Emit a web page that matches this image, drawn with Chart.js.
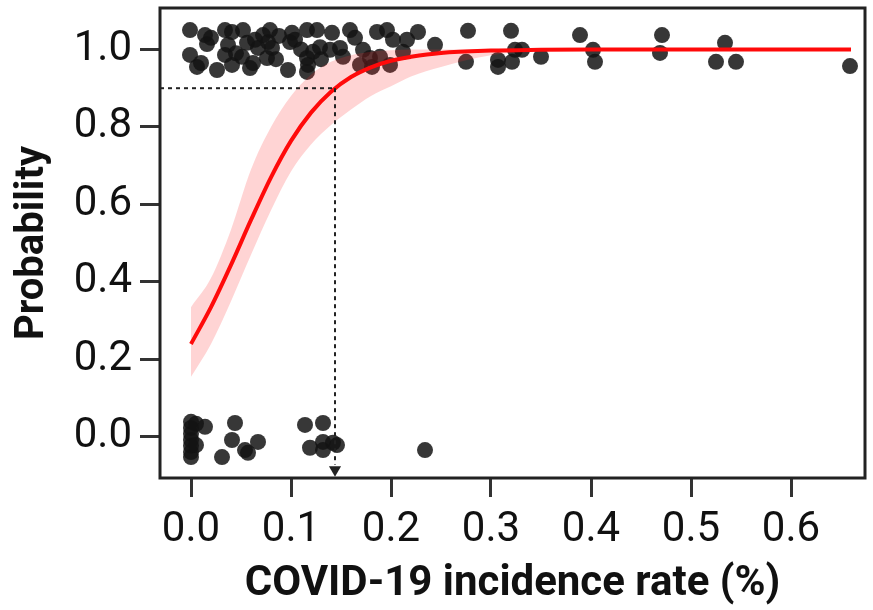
<!DOCTYPE html>
<html>
<head>
<meta charset="utf-8">
<script src="https://cdn.jsdelivr.net/npm/chart.js@4"></script>
<style>
  body { margin: 0; background: #fff; }
  #wrap { width: 873px; height: 610px; position: relative; }
</style>
</head>
<body>
<div id="wrap"><canvas id="probChart"></canvas></div>
<script>
// observed outcomes (jittered), outcome = 1
const posX = [-0.001, -0.001, 0.006, 0.014, 0.016, 0.026, 0.034, 0.037, 0.034, 0.041, 0.041, 0.052, 0.056, 0.051, 0.059,
  0.064, 0.067, 0.072, 0.077, 0.079, 0.076, 0.081, 0.101, 0.099, 0.104, 0.097, 0.116, 0.116, 0.126, 0.122, 0.116,
  0.117, 0.129, 0.139, 0.141, 0.149, 0.152, 0.159, 0.164, 0.169, 0.172, 0.179, 0.181, 0.186, 0.189, 0.196, 0.199,
  0.202, 0.212, 0.216, 0.227, 0.244, 0.275, 0.277, 0.307, 0.307, 0.320, 0.321, 0.324, 0.331, 0.350, 0.389, 0.402,
  0.404, 0.471, 0.469, 0.534, 0.525, 0.545, 0.659,
  0.020, 0.045, 0.062, 0.088, 0.085, 0.010, 0.110, 0.130];
const posY = [1.050, 0.986, 0.955, 1.037, 1.014, 0.947, 1.050, 1.012, 0.986, 0.960, 1.045, 1.050, 1.017, 0.981, 0.952,
  1.025, 1.004, 1.037, 1.019, 1.050, 0.978, 1.004, 1.043, 1.019, 1.025, 0.947, 0.942, 1.050, 1.050, 0.994, 0.978,
  0.960, 1.006, 0.999, 1.043, 1.004, 0.981, 1.050, 1.030, 0.960, 0.999, 0.978, 0.955, 1.045, 0.981, 1.050, 0.960,
  1.025, 0.994, 1.025, 1.045, 1.012, 0.968, 1.048, 0.973, 0.955, 1.048, 0.968, 0.999, 0.999, 0.981, 1.037, 0.999,
  0.968, 1.037, 0.991, 1.017, 0.968, 0.968, 0.957,
  1.030, 0.990, 0.965, 1.035, 0.975, 0.965, 1.000, 0.975];

// observed outcomes (jittered), outcome = 0
const negX = [0.000, 0.000, 0.000, 0.000, 0.000, 0.000, 0.000, 0.005, 0.005, 0.014, 0.031, 0.044, 0.041, 0.054, 0.057,
  0.067, 0.114, 0.132, 0.119, 0.132, 0.132, 0.142, 0.146, 0.234];
const negY = [0.039, 0.023, 0.008, -0.008, -0.023, -0.039, -0.052, 0.034, -0.021, 0.026, -0.052, 0.036, -0.008, -0.034,
  -0.041, -0.013, 0.031, 0.036, -0.028, -0.013, -0.034, -0.015, -0.021, -0.034];

// fitted curve and confidence band
const fitX = [0, 0.02, 0.04, 0.06, 0.08, 0.10, 0.12, 0.14, 0.16, 0.18, 0.20, 0.22, 0.25, 0.30, 0.35, 0.40, 0.50, 0.66];
const fitP = [0.240, 0.335, 0.444, 0.560, 0.670, 0.764, 0.837, 0.891, 0.929, 0.954, 0.971, 0.981, 0.991, 0.997, 0.999, 1.0, 1.0, 1.0];
const bandLow = [0.155, 0.240, 0.350, 0.470, 0.585, 0.685, 0.755, 0.805, 0.845, 0.880, 0.905, 0.930, 0.955, 0.985, 0.997, 1.0, 1.0, 1.0];
const bandHigh = [0.335, 0.410, 0.535, 0.690, 0.800, 0.880, 0.935, 0.968, 0.985, 0.994, 0.998, 1.0, 1.0, 1.0, 1.0, 1.0, 1.0, 1.0];

// 90% threshold guide
const cutX = 0.144;
const cutP = 0.9;

const xTicks = [0, 0.1, 0.2, 0.3, 0.4, 0.5, 0.6];
const yTicks = [0, 0.2, 0.4, 0.6, 0.8, 1.0];
const xMin = -0.031, xMax = 0.674;
const yMin = -0.106, yMax = 1.107;

const toPts = (xs, ys) => xs.map((x, i) => ({ x: x, y: ys[i] }));

const boxPlugin = {
  id: "box",
  afterDatasetsDraw(chart) {
    const a = chart.chartArea;
    const ctx = chart.ctx;
    ctx.save();
    ctx.strokeStyle = "#222";
    ctx.lineWidth = 3;
    ctx.strokeRect(a.left, a.top, a.right - a.left, a.bottom - a.top);
    ctx.restore();
  },
};

const dashStyle = {
  type: "line",
  borderColor: "#222",
  borderWidth: 2,
  borderDash: [4, 4],
  pointRadius: 0,
  fill: false,
  order: 0,
};

new Chart(document.getElementById("probChart").getContext("2d"), {
  type: "scatter",
  data: {
    datasets: [
      {
        label: "obs1",
        data: toPts(posX, posY),
        pointRadius: 8,
        pointBackgroundColor: "rgba(20,20,20,0.85)",
        pointBorderWidth: 0,
        order: 4,
      },
      {
        label: "obs0",
        data: toPts(negX, negY),
        pointRadius: 8,
        pointBackgroundColor: "rgba(20,20,20,0.85)",
        pointBorderWidth: 0,
        order: 4,
      },
      {
        type: "line",
        label: "upper",
        data: toPts(fitX, bandHigh),
        borderWidth: 0,
        borderColor: "rgba(0,0,0,0)",
        backgroundColor: "rgba(255,40,40,0.2)",
        pointRadius: 0,
        cubicInterpolationMode: "monotone",
        fill: "+1",
        order: 3,
      },
      {
        type: "line",
        label: "lower",
        data: toPts(fitX, bandLow),
        borderWidth: 0,
        borderColor: "rgba(0,0,0,0)",
        pointRadius: 0,
        cubicInterpolationMode: "monotone",
        fill: false,
        order: 3,
      },
      {
        type: "line",
        label: "fit",
        data: toPts(fitX, fitP),
        borderColor: "#ff0a0a",
        borderWidth: 4,
        pointRadius: 0,
        cubicInterpolationMode: "monotone",
        fill: false,
        order: 1,
      },
      Object.assign({ label: "hguide", data: [{ x: xMin, y: cutP }, { x: cutX, y: cutP }] }, dashStyle),
      Object.assign({ label: "vguide", data: [{ x: cutX, y: cutP }, { x: cutX, y: -0.072 }] }, dashStyle),
      {
        label: "arrow",
        data: [{ x: cutX, y: -0.085 }],
        pointStyle: "triangle",
        rotation: 180,
        pointRadius: 7,
        pointBackgroundColor: "#222",
        pointBorderWidth: 0,
        order: 0,
      },
    ],
  },
  options: {
    responsive: true,
    maintainAspectRatio: false,
    animation: false,
    layout: { padding: { top: 8, right: 8, left: 0, bottom: 0 } },
    plugins: { legend: { display: false }, tooltip: { enabled: false } },
    scales: {
      x: {
        type: "linear",
        min: xMin,
        max: xMax,
        afterFit: (scale) => {
          scale.height = 132;
          scale.paddingLeft = 0;
          scale.paddingRight = 0;
        },
        afterBuildTicks: (scale) => { scale.ticks = xTicks.map((v) => ({ value: v })); },
        border: { display: false },
        grid: { drawOnChartArea: false, drawTicks: true, tickLength: 19, tickWidth: 3, tickColor: "#333" },
        ticks: {
          padding: 8,
          color: "#111",
          font: { family: "Roboto", size: 42 },
          callback: (v) => v.toFixed(1),
        },
        title: {
          display: true,
          text: "COVID-19 incidence rate (%)",
          color: "#111",
          font: { family: "Roboto", size: 42, weight: "bold" },
          padding: { top: 0, bottom: 0 },
        },
      },
      y: {
        type: "linear",
        min: yMin,
        max: yMax,
        afterFit: (scale) => {
          scale.width = 160;
          scale.paddingTop = 0;
          scale.paddingBottom = 0;
        },
        afterBuildTicks: (scale) => { scale.ticks = yTicks.map((v) => ({ value: v })); },
        border: { display: false },
        grid: { drawOnChartArea: false, drawTicks: true, tickLength: 20, tickWidth: 3, tickColor: "#333" },
        ticks: {
          padding: 8,
          color: "#111",
          font: { family: "Roboto", size: 42 },
          callback: (v) => v.toFixed(1),
        },
        title: {
          display: true,
          text: "Probability",
          color: "#111",
          font: { family: "Roboto", size: 40, weight: "bold" },
          padding: { top: 9, bottom: 0 },
        },
      },
    },
  },
  plugins: [boxPlugin],
});
</script>
</body>
</html>
